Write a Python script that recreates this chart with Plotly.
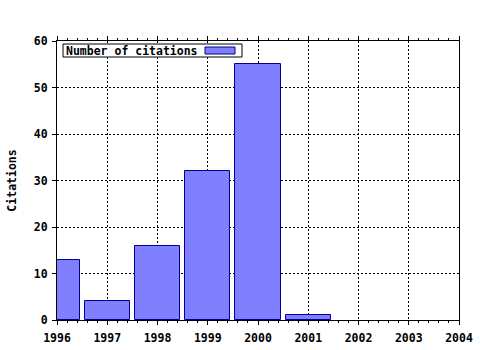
import plotly.graph_objects as go

years = [1996, 1997, 1998, 1999, 2000, 2001, 2002, 2003]
citations = [13, 4, 16, 32, 55, 1, 0, 0]
x_ticks = [1996, 1997, 1998, 1999, 2000, 2001, 2002, 2003, 2004]
y_ticks = [0, 10, 20, 30, 40, 50, 60]
series_name = "Number of citations"
y_title = "Citations"

FONT = "DejaVu Sans Mono"
# zero-height bars are invisible in the reference
bx = [x for x, v in zip(years, citations) if v > 0]
by = [v for v in citations if v > 0]

fig = go.Figure()
fig.add_trace(go.Bar(
    x=bx, y=by, width=0.9, name=series_name,
    marker=dict(color="#8080ff", line=dict(color="#000099", width=1)),
    showlegend=False,
))

L, R, T, B = 57, 21, 41, 30
W, H = 480, 350
pw, ph = W - L - R, H - T - B

fig.update_layout(
    width=W, height=H,
    margin=dict(l=L, r=R, t=T, b=B, autoexpand=False),
    paper_bgcolor="white", plot_bgcolor="white",
    font=dict(family=FONT, size=11.5, color="black", weight="bold"),
    bargap=0,
)
fig.update_xaxes(
    range=[1996, 2004], tickvals=x_ticks, ticktext=[str(v) for v in x_ticks],
    showline=True, linecolor="black", linewidth=1, mirror="ticks",
    ticks="outside", ticklen=4, tickcolor="black", ticklabelstandoff=3,
    minor=dict(dtick=0.2, ticks="outside", ticklen=2, tickcolor="black", showgrid=False),
    showgrid=True, gridcolor="black", gridwidth=1, griddash="2px,2px",
    zeroline=False, automargin=False,
    tickfont=dict(family=FONT, size=11.5, color="black", weight="bold"),
)
fig.update_yaxes(
    range=[0, 60], tickvals=y_ticks,
    showline=True, linecolor="black", linewidth=1, mirror=True,
    ticks="outside", ticklen=4, tickcolor="black", ticklabelstandoff=2,
    showgrid=True, gridcolor="black", gridwidth=1, griddash="2px,2px",
    zeroline=False, automargin=False,
    title=dict(text=y_title, standoff=14, font=dict(family=FONT, size=11.5, color="black", weight="bold")),
    tickfont=dict(family=FONT, size=11.5, color="black", weight="bold"),
)

# legend box (text left, swatch right, as in the reference)
fig.add_shape(
    type="rect", xref="paper", yref="paper",
    x0=(63 - L) / pw, x1=(242 - L) / pw,
    y0=1 - (57 - T) / ph, y1=1 - (44 - T) / ph,
    fillcolor="white", line=dict(color="black", width=1),
)
fig.add_shape(
    type="rect", xref="paper", yref="paper",
    x0=(205 - L) / pw, x1=(235 - L) / pw,
    y0=1 - (54 - T) / ph, y1=1 - (47 - T) / ph,
    fillcolor="#8080ff", line=dict(color="#000099", width=1),
)
fig.add_annotation(
    xref="paper", yref="paper",
    x=(64 - L) / pw, y=1 - (50.5 - T) / ph, xanchor="left", yanchor="middle",
    text=series_name, showarrow=False, align="left",
    font=dict(family=FONT, size=11.5, color="black", weight="bold"),
)

fig.write_html("out.html")
